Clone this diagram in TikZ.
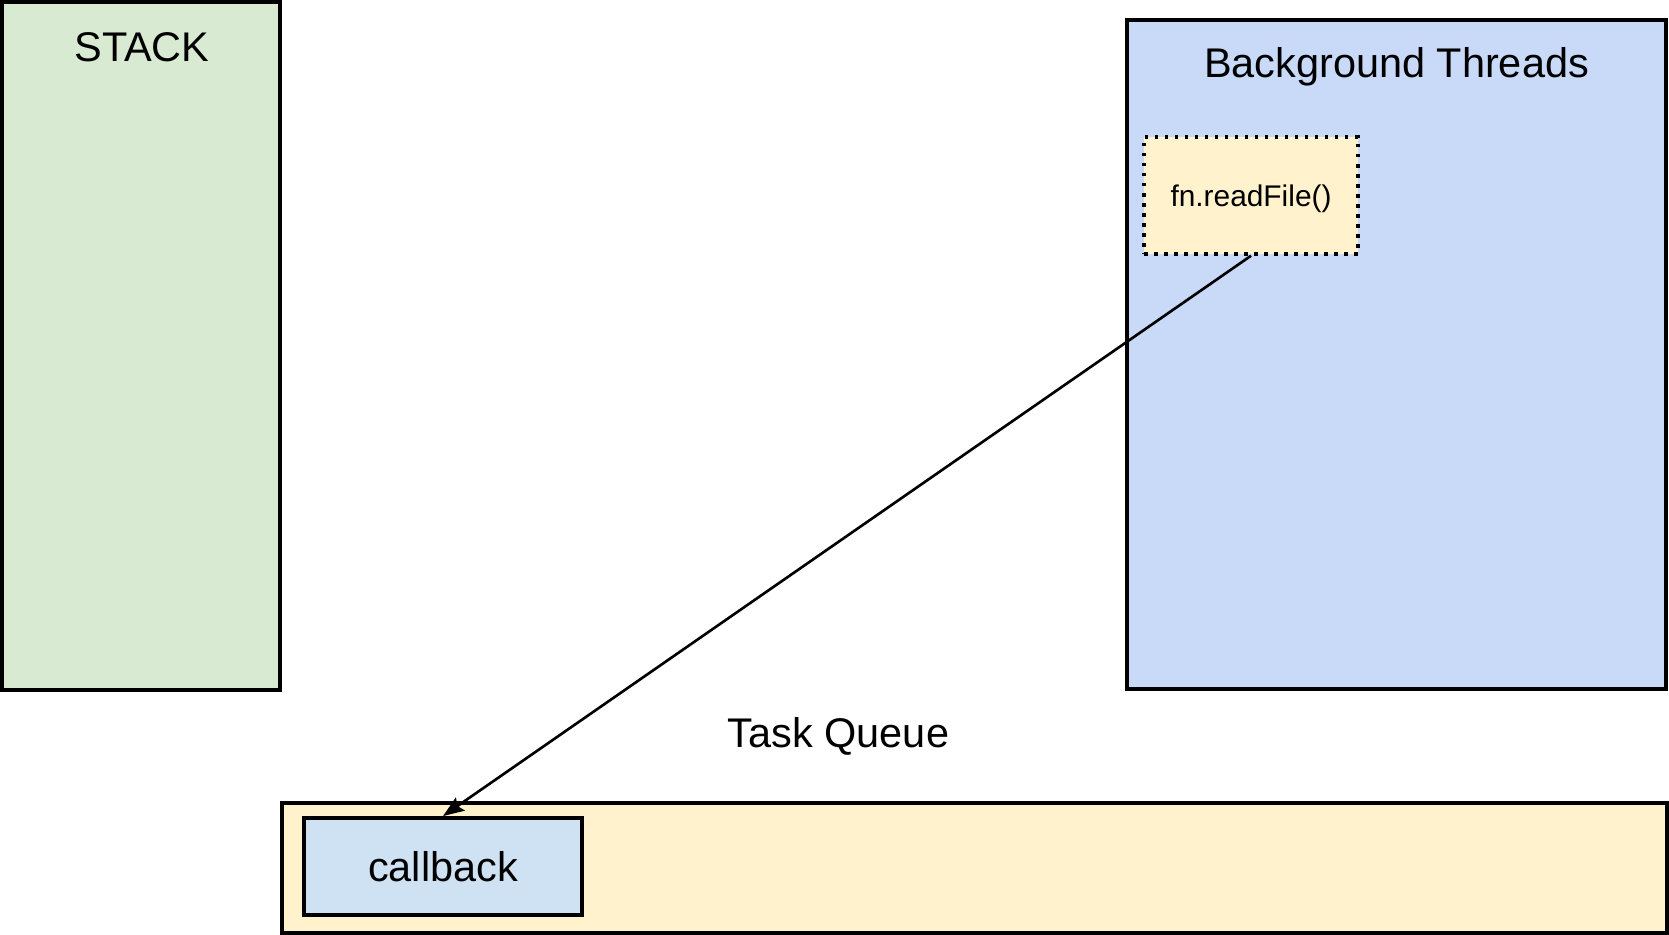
\documentclass[tikz,border=0pt]{standalone}
\usepackage{fontspec}
\setmainfont{Liberation Sans}
\usepackage{tikz}
\usetikzlibrary{arrows.meta}

\definecolor{stackgreen}{HTML}{D9EAD3}
\definecolor{threadblue}{HTML}{C9DAF8}
\definecolor{queueyellow}{HTML}{FFF2CC}
\definecolor{callblue}{HTML}{CFE2F3}

\begin{document}
\begin{tikzpicture}[x=0.02cm, y=-0.02cm,
							bigbox/.style={rectangle, draw=black, line width=2.2pt, inner sep=0pt},
							dotbox/.style={rectangle, draw=black, line width=2pt, dash pattern=on 2pt off 3.7pt, fill=queueyellow, inner sep=0pt, font=\fontsize{17}{20}\selectfont},
							bigtext/.style={anchor=base, inner sep=0pt, font=\fontsize{23.6}{28}\selectfont},
							]
							\useasboundingbox (0,0) rectangle (1669,935);
							%Nodes
							\node[bigbox, fill=stackgreen, minimum width=5.56cm, minimum height=13.76cm]	(stack)	at	(141,346)	{};
							\node[bigbox, fill=threadblue, minimum width=10.78cm, minimum height=13.38cm]	(threads)	at	(1396.5,354.5)	{};
							\node[bigbox, fill=queueyellow, minimum width=27.7cm, minimum height=2.6cm]	(queue)	at	(974.5,868)	{};
							\node[bigbox, fill=callblue, minimum width=5.56cm, minimum height=1.94cm, font=\fontsize{23.6}{28}\selectfont]	(callback)	at	(443,866.5)	{callback};
							\node[dotbox, minimum width=4.28cm, minimum height=2.34cm, text height=12pt, text depth=0pt]	(readfile)	at	(1251,195.5)	{fn.readFile()};
							\node[bigtext]	(stacklabel)	at	(142,62)	{STACK};
							\node[bigtext]	(threadslabel)	at	(1396.5,78)	{Background Threads};
							\node[bigtext]	(queuelabel)	at	(838.5,747)	{Task Queue};
							
							\draw[line width=1.5pt, -{Stealth[length=12pt, width=9pt, inset=2pt]}] (readfile.south) -- (callback.north);
						\end{tikzpicture}
\end{document}
